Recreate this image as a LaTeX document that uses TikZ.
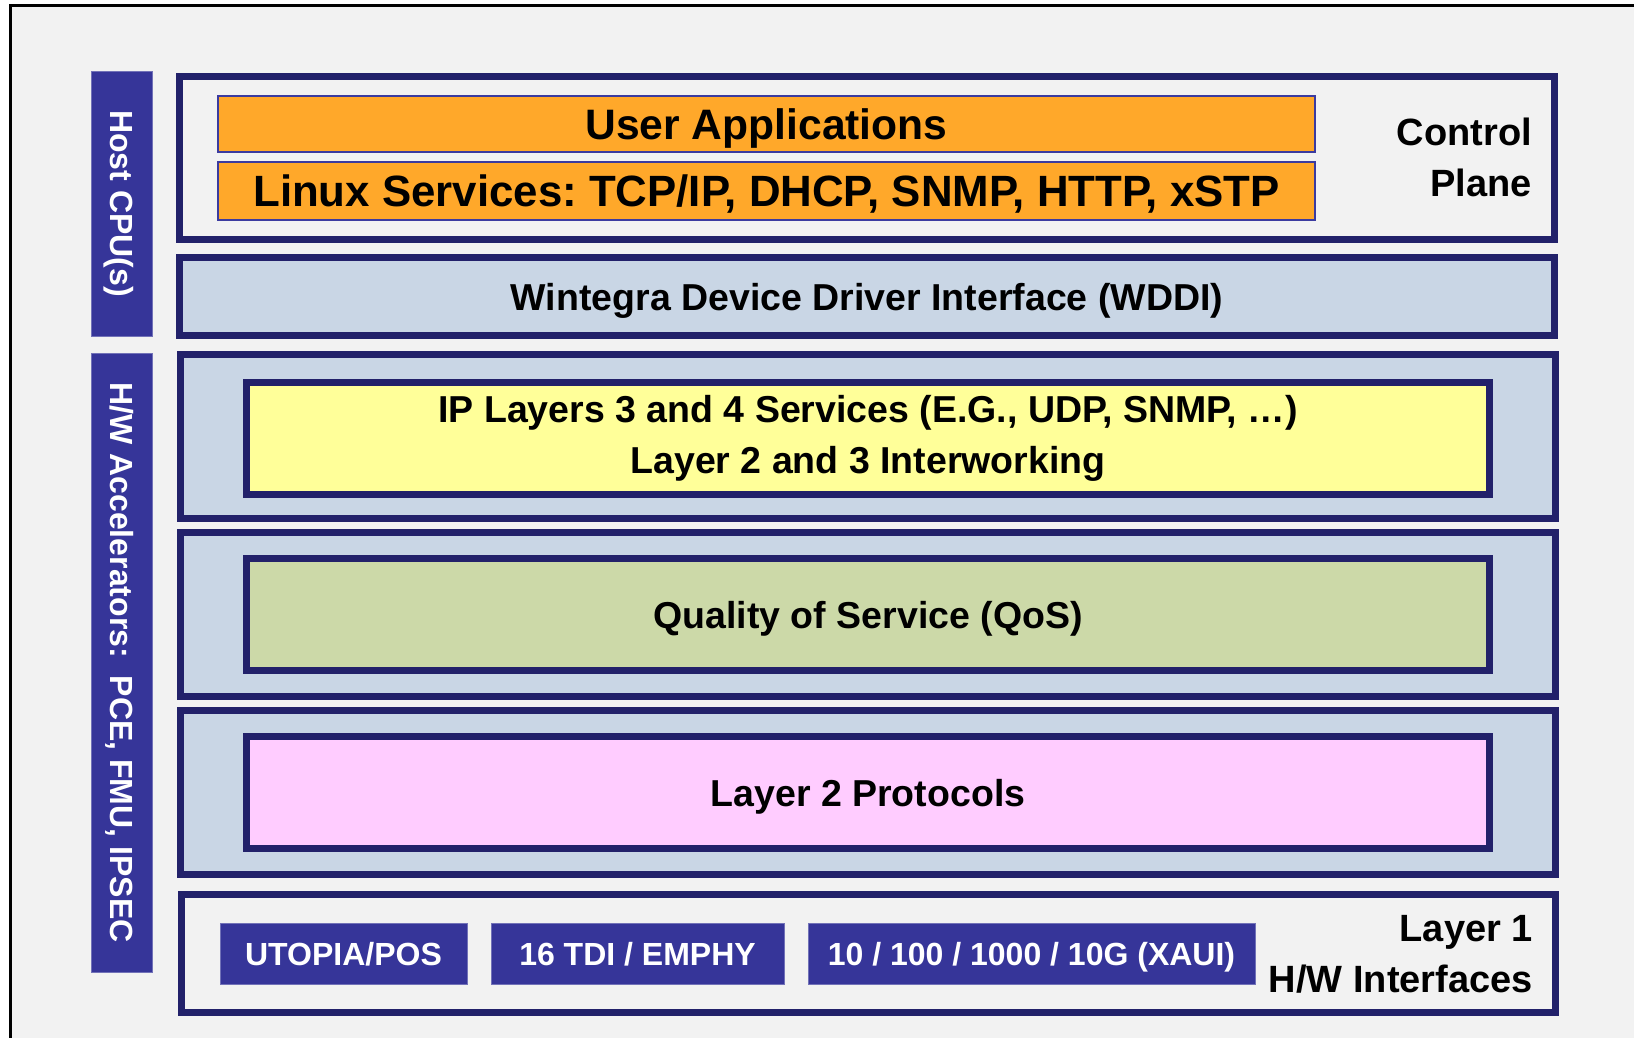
\documentclass[tikz,border=0pt]{standalone}
\usepackage{fontspec}
\setmainfont{Liberation Sans}
\frenchspacing
\definecolor{navy}{RGB}{34,33,106}
\definecolor{barblue}{RGB}{54,53,153}
\definecolor{bgray}{RGB}{242,242,242}
\definecolor{grpfill}{RGB}{201,214,229}
\definecolor{orangefill}{RGB}{255,168,42}
\definecolor{orangeline}{RGB}{59,59,160}
\definecolor{yellowfill}{RGB}{255,255,153}
\definecolor{greenfill}{RGB}{204,217,168}
\definecolor{pinkfill}{RGB}{255,204,255}
\newcommand\myfs[2]{\fontsize{#1}{#2}\selectfont}
\tikzset{
  grp/.style={draw=navy, line width=7pt, fill=grpfill, inner sep=0pt, minimum width=1375, minimum height=164},
  inbox/.style={draw=navy, line width=7pt, inner sep=0pt, minimum width=1243, minimum height=112,
    font=\myfs{37.5}{51}\bfseries, text=black, align=center},
  capsc/.style={text height=#1, text depth=0pt},
  obox/.style={draw=orangeline, line width=2pt, fill=orangefill, inner sep=0pt, minimum width=1097,
    font=\myfs{42.6}{50}\bfseries, capsc=30.6pt},
  bar/.style={fill=barblue, draw=barblue!70!white, line width=0.8pt, inner sep=0pt, minimum width=61},
  vtxt/.style={rotate=-90, text=white, font=\myfs{32}{40}\bfseries, inner sep=0pt, capsc=23pt},
  btn/.style={fill=barblue, draw=barblue!70!white, line width=0.8pt, inner sep=0pt, minimum height=61,
    text=white, font=\myfs{32}{40}\bfseries, capsc=23pt},
  lbl/.style={font=\myfs{38}{51}\bfseries, align=right, inner sep=0pt}
}
\begin{document}
\begin{tikzpicture}[x=1pt,y=-1pt]
\useasboundingbox (0,0) rectangle (1634,1037);
\clip (0,0) rectangle (1634,1037);
\fill[white] (0,0) rectangle (1634,1037);
\draw[black, line width=3pt, fill=bgray] (10.5,5.5) rectangle (1700,1100);

% side bars
\node[bar, minimum height=265] (host) at (121.5,203.5) {};
\node[vtxt] (hosttxt) at (121.5,203.5) {Host CPU(s)};
\node[bar, minimum height=619] (hwacc) at (121.5,662.5) {};
\node[vtxt] (hwtxt) at (121.5,662.5) {H/W Accelerators:\ \ PCE, FMU, IPSEC};

% control plane
\node[grp, fill=bgray, minimum height=163] (cp) at (867,158) {};
\node[obox, minimum height=56] (ua) at (766.5,124) {User Applications};
\node[obox, minimum height=58, font=\myfs{43.8}{50}\bfseries, capsc=31.4pt] (linux) at (766.5,191) {Linux Services: TCP/IP, DHCP, SNMP, HTTP, xSTP};
\node[lbl, anchor=east] (cptxt) at (1532,157) {Control\\Plane};

% WDDI
\node[grp, minimum height=78, font=\myfs{37.5}{44}\bfseries, capsc=27pt] (wddi) at (867,296.5) {Wintegra Device Driver Interface (WDDI)};

% accelerator groups
\node[grp] (g1) at (868,436.5) {};
\node[inbox, fill=yellowfill, yshift=-2pt] (ip) at (868,436.5) {IP Layers 3 and 4 Services (E.G., UDP, SNMP, \ldots)\\Layer 2 and 3 Interworking};
\node[grp] (g2) at (868,614.5) {};
\node[inbox, fill=greenfill, capsc=27pt] (qos) at (868,614.5) {Quality of Service (QoS)};
\node[grp] (g3) at (868,792.5) {};
\node[inbox, fill=pinkfill, capsc=27pt] (l2) at (868,792.5) {Layer 2 Protocols};

% layer 1
\node[grp, fill=bgray, minimum width=1374, minimum height=118] (l1) at (868.5,953.5) {};
\node[btn, minimum width=247] (utopia) at (343.5,953.5) {UTOPIA/POS};
\node[btn, minimum width=293] (tdi) at (637.5,953.5) {16 TDI / EMPHY};
\node[btn, minimum width=447] (eth) at (1031.5,953.5) {10 / 100 / 1000 / 10G (XAUI)};
\node[lbl, anchor=east] (l1txt) at (1533,954) {Layer 1\\H/W Interfaces};
\end{tikzpicture}
\end{document}
